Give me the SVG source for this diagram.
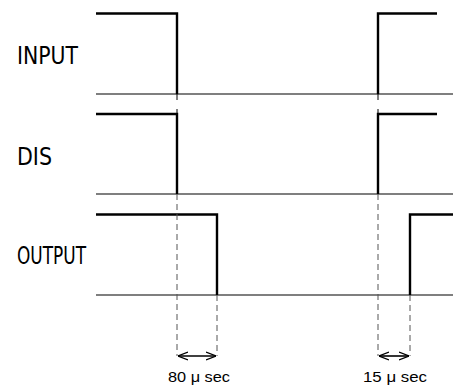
<svg xmlns="http://www.w3.org/2000/svg" width="453" height="385" viewBox="0 0 453 385">
<defs>
<style>
.sig{fill:none;stroke:#000;stroke-width:2.4;stroke-linejoin:miter}
.base{fill:none;stroke:#000;stroke-width:1.1}
.thin{fill:none;stroke:#000;stroke-width:1}
.dash{fill:none;stroke:#555;stroke-width:1;stroke-dasharray:6,4}
.lbl{font-family:"DejaVu Sans Condensed","Liberation Sans",sans-serif;font-size:24px;fill:#000}
.dim{font-family:"Liberation Sans",sans-serif;font-size:15px;fill:#000}
.arr{fill:none;stroke:#000;stroke-width:1.6;marker-start:url(#ah);marker-end:url(#ah)}
</style>
<marker id="ah" viewBox="0 0 10 10" refX="10" refY="5" markerWidth="10" markerHeight="10" markerUnits="userSpaceOnUse" orient="auto-start-reverse">
<path d="M0,1 L10,5 L0,9" fill="none" stroke="#000" stroke-width="1.3"/>
</marker>
</defs>
<g id="labels">
<text class="lbl" x="17" y="64" textLength="61" lengthAdjust="spacingAndGlyphs">INPUT</text>
<text class="lbl" x="17" y="165" textLength="35" lengthAdjust="spacingAndGlyphs">DIS</text>
<text class="lbl" x="17" y="264" textLength="69" lengthAdjust="spacingAndGlyphs">OUTPUT</text>
</g>
<g id="input">
<line class="base" x1="96" y1="94" x2="453" y2="94"/>
<path class="sig" d="M96,13.5 H177 V94"/>
<path class="sig" d="M378,94 V13.5 H437"/>
</g>
<g id="dis">
<line class="base" x1="96" y1="194" x2="453" y2="194"/>
<path class="sig" d="M96,114 H177 V194"/>
<path class="sig" d="M378,194 V114 H437"/>
</g>
<g id="output">
<line class="base" x1="96" y1="295" x2="453" y2="295"/>
<path class="sig" d="M96,214.5 H217 V295"/>
<path class="sig" d="M410,295 V214.5 H453"/>
</g>
<g id="connectors">
<line class="thin" x1="177" y1="94" x2="177" y2="100"/>
<line class="thin" x1="177" y1="109" x2="177" y2="114"/>
<line class="thin" x1="378" y1="94" x2="378" y2="100"/>
<line class="thin" x1="378" y1="109" x2="378" y2="114"/>
<line class="dash" x1="177" y1="194" x2="177" y2="356"/>
<line class="dash" x1="217" y1="295" x2="217" y2="356"/>
<line class="dash" x1="378" y1="194" x2="378" y2="356"/>
<line class="dash" x1="410" y1="295" x2="410" y2="356"/>
<line class="arr" x1="178" y1="356" x2="216" y2="356"/>
<line class="arr" x1="379" y1="356" x2="409" y2="356"/>
</g>
<g id="dims">
<text class="dim" x="168" y="382" textLength="62" lengthAdjust="spacingAndGlyphs">80 μ sec</text>
<text class="dim" x="363" y="382" textLength="64" lengthAdjust="spacingAndGlyphs">15 μ sec</text>
</g>
</svg>
